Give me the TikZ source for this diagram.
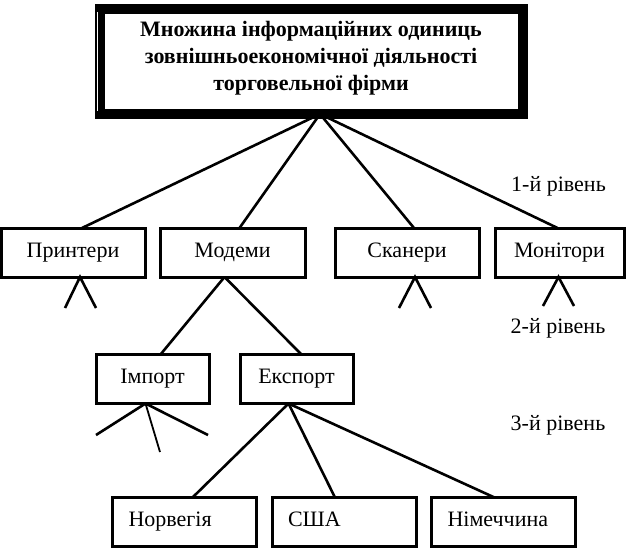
\documentclass[tikz,border=0pt]{standalone}
\usepackage{fontspec}
\setmainfont{Liberation Serif}
\usepackage{tikz}
\usetikzlibrary{positioning}

\begin{document}
\begin{tikzpicture}[
    x=1pt, y=-1pt,
    every node/.style={font=\fontsize{22}{26.5}\selectfont},
    box/.style={draw, line width=3pt, outer sep=0pt, minimum height=49pt, text height=14pt, text depth=5pt},
    leftbox/.style={box, minimum width=144pt, inner xsep=16pt, text width=112pt, align=left},
    rootbox/.style={draw, line width=10pt, outer sep=0pt, minimum width=423pt, minimum height=105pt},
    roottext/.style={font=\fontsize{22}{27}\selectfont\bfseries, inner sep=0pt, align=center},
    levellabel/.style={inner sep=0pt, anchor=base},
    every path/.style={line width=2.6pt}
  ]
  \useasboundingbox (0,0) rectangle (638,547);

  % Nodes
  \node[rootbox] (root) at (311,61.5) {};
  \node[roottext] (title) at (311,58) {Множина інформаційних одиниць\\зовнішньоекономічної діяльності\\торговельної фірми};
  \node[box, minimum width=144pt] (printers) at (73,252.5) {Принтери};
  \node[box, minimum width=145pt] (modems) at (232.5,252.5) {Модеми};
  \node[box, minimum width=144pt] (scanners) at (407,252.5) {Сканери};
  \node[box, minimum width=129pt] (monitors) at (559.5,252.5) {Монітори};
  \node[box, minimum width=113pt] (import) at (152.5,379) {Імпорт};
  \node[box, minimum width=113pt] (export) at (296.5,379) {Експорт};
  \node[leftbox] (norway) at (184.5,522) {Норвегія};
  \node[leftbox] (usa) at (344,522) {США};
  \node[leftbox] (germany) at (503.5,522) {Німеччина};

  % Levels
  \node[levellabel] (level1) at (558.5,191.5) {1-й рівень};
  \node[levellabel] (level2) at (558,333.5) {2-й рівень};
  \node[levellabel] (level3) at (558,430) {3-й рівень};

  % Free ends
  \coordinate (p1) at (65,308);
  \coordinate (p2) at (96,308);
  \coordinate (s1) at (399,308);
  \coordinate (s2) at (431,308);
  \coordinate (m1) at (543,306);
  \coordinate (m2) at (574,306);
  \coordinate (i1) at (96,435);
  \coordinate (i2) at (160,452);
  \coordinate (i3) at (208,435);

  % Edges for root
  \draw ([xshift=9pt]root.south) -- ([xshift=9pt]printers.north);
  \draw ([xshift=9pt]root.south) -- ([xshift=7pt]modems.north);
  \draw ([xshift=9pt]root.south) -- ([xshift=7pt]scanners.north);
  \draw ([xshift=9pt]root.south) -- ([xshift=-2pt]monitors.north);

  % Edges for modems
  \draw ([xshift=-8pt]modems.south) -- ([xshift=8pt]import.north);
  \draw ([xshift=-8pt]modems.south) -- ([xshift=5pt]export.north);

  % Edges for export
  \draw ([xshift=-8pt]export.south) -- ([xshift=8pt]norway.north);
  \draw ([xshift=-8pt]export.south) -- ([xshift=-9pt]usa.north);
  \draw ([xshift=-8pt]export.south) -- ([xshift=-9pt]germany.north);

  % Stubs
  \draw (p1) -- ([xshift=7pt]printers.south) -- (p2);
  \draw (s1) -- ([xshift=8pt]scanners.south) -- (s2);
  \draw (m1) -- ([xshift=-1pt]monitors.south) -- (m2);
  \draw (i1) -- ([xshift=-7pt]import.south) -- (i3);
  \draw[line width=1.8pt] ([xshift=-7pt]import.south) -- (i2);

  % Mark on the frame
  \draw[white, line width=1pt] ([xshift=-2pt,yshift=-3pt]root.north west) -- ([xshift=-2pt,yshift=3pt]root.south west);

\end{tikzpicture}
\end{document}
